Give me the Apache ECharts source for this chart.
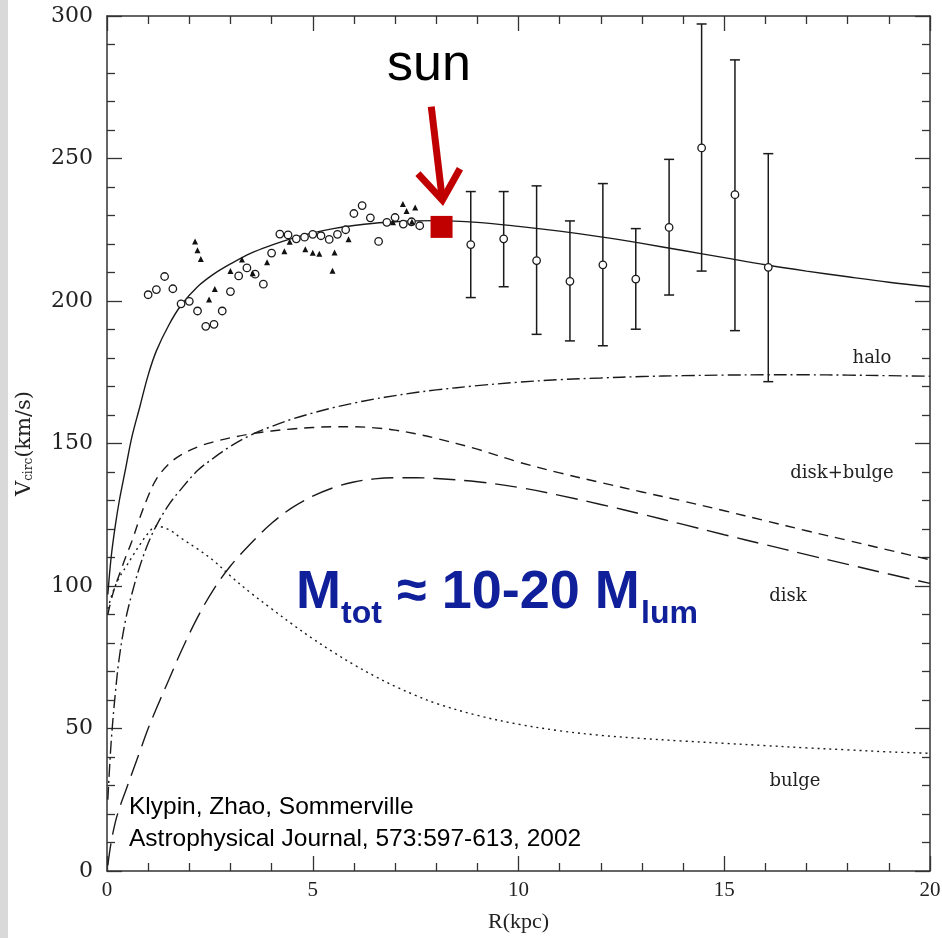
<!DOCTYPE html>
<html>
<head>
<meta charset="utf-8">
<script src="https://cdn.jsdelivr.net/npm/echarts@6/dist/echarts.min.js"></script>
<style>
  html, body { margin: 0; padding: 0; background: #fff; }
  #chart { width: 942px; height: 938px; }
</style>
</head>
<body>
<div id="chart"></div>
<script>
// model curves, R in kpc
var rModel = [0.02, 0.1, 0.2, 0.3, 0.45, 0.6, 0.8, 1.0, 1.2, 1.5, 1.8, 2.2, 2.6, 3.0, 3.5, 4, 4.5, 5, 5.5, 6, 6.5, 7, 7.5, 8, 9, 10, 11, 12, 13, 14, 15, 16, 17, 18, 19, 20];
var vTotal = [97, 110, 121, 130, 141, 152, 163, 174, 182.5, 191.5, 198.5, 205, 209.5, 213, 216.8, 219.6, 222, 223.9, 225.4, 226.5, 227.3, 227.8, 228.1, 228.2, 227.6, 226.2, 224.5, 222.5, 220.2, 217.7, 215.2, 212.7, 210.5, 208.5, 206.6, 205];
var vHalo = [25, 45, 62, 75, 88, 97, 107, 115, 121.2, 128.5, 134, 140.5, 145, 149, 153, 156, 158.6, 160.7, 162.6, 164.2, 165.6, 166.8, 167.9, 168.8, 170.3, 171.5, 172.4, 173, 173.5, 173.8, 174, 174.1, 174.1, 174, 173.8, 173.6];
var vDiskBulge = [90, 95, 100, 104, 110, 115.5, 124, 131.5, 137.5, 142.8, 146, 148.8, 150.6, 152, 153.4, 154.4, 155.1, 155.6, 155.9, 155.9, 155.5, 154.7, 153.4, 151.8, 148, 143.5, 139.7, 136.3, 133, 129.8, 126.4, 122.9, 119.4, 116, 112.6, 109.2];
var vDisk = [2, 10, 17, 22, 28, 34, 42, 50, 57, 67, 77, 89, 99, 107, 115, 122, 127.5, 131.5, 134.5, 136.5, 137.6, 138, 138, 137.7, 136.6, 134.6, 131.8, 128.6, 125.2, 121.6, 118, 114.5, 111, 107.6, 104.2, 100.9];
var vBulge = [92, 96, 100, 103, 106.5, 110, 114.5, 118.5, 121, 119.8, 116.8, 113, 108.8, 103.5, 97.5, 92, 86.6, 81.5, 76.8, 72.4, 68.4, 64.8, 61.6, 58.8, 54.6, 51.5, 49.2, 47.6, 46.5, 45.6, 44.8, 44, 43.2, 42.5, 41.8, 41.3];

// observations: open circles
var circR = [1.0, 1.2, 1.4, 1.6, 1.8, 2.0, 2.2, 2.4, 2.6, 2.8, 3.0, 3.2, 3.4, 3.6, 3.8, 4.0, 4.2, 4.4, 4.6, 4.8, 5.0, 5.2, 5.4, 5.6, 5.8, 6.0, 6.2, 6.4, 6.6, 6.8, 7.0, 7.2, 7.4, 7.6];
var circV = [202.2, 204, 208.6, 204.3, 199, 199.9, 196.5, 191.1, 191.8, 196.5, 203.3, 208.8, 211.6, 209.4, 205.9, 216.8, 223.5, 223.2, 221.8, 222.4, 223.4, 222.9, 221.6, 223.4, 225, 230.7, 233.5, 229.2, 220.9, 227.6, 229.3, 227, 227.8, 226.4];
// observations: filled triangles
var triR = [2.14, 2.2, 2.28, 2.48, 2.62, 3.0, 3.28, 3.54, 3.89, 4.31, 4.44, 4.82, 5.0, 5.16, 5.48, 5.53, 5.87, 6.95, 7.19, 7.28, 7.41, 7.49];
var triV = [220.9, 217.8, 214.7, 200.5, 204.2, 210.5, 214.6, 209.7, 213.6, 217.5, 220.8, 218.2, 216.9, 216.6, 210.6, 217, 221.7, 227.6, 234, 231.6, 227.8, 232.8];
// outer points with error bars
var errR = [8.84, 9.64, 10.44, 11.25, 12.05, 12.85, 13.66, 14.45, 15.26, 16.07];
var errV = [219.8, 221.8, 214.2, 206.9, 212.7, 207.7, 225.8, 253.7, 237.3, 211.8];
var errLo = [201.2, 205.0, 188.3, 186.0, 184.3, 190.1, 202.1, 210.5, 189.6, 171.7];
var errHi = [238.4, 238.4, 240.4, 228.1, 241.2, 225.4, 249.7, 297.2, 284.6, 251.7];
// sun
var sunPos = [8.13, 226];
var arrowFrom = [7.88, 268.2];
var arrowTo = [8.15, 235.4];

var ink = '#1a1a1a';
var serif = 'DejaVu Serif';

function pairs(xs, ys) {
    return xs.map(function (x, i) { return [x, ys[i]]; });
}

function curve(name, ys, dash) {
    return {
        name: name,
        type: 'line',
        data: pairs(rModel, ys),
        showSymbol: false,
        smooth: 0.35,
        lineStyle: { color: ink, width: 1.4, type: dash },
        silent: true,
        z: 2
    };
}

var dom = document.getElementById('chart');
var myChart = echarts.init(dom);

var xAxisBase = {
    type: 'value',
    min: 0,
    max: 20,
    interval: 5,
    splitLine: { show: false },
    axisLine: { show: true, onZero: false, lineStyle: { color: '#333', width: 1.5 } },
    axisTick: { show: true, inside: true, length: 15, lineStyle: { color: '#333', width: 1.3 } },
    minorTick: { show: true, splitNumber: 5, length: 8, lineStyle: { color: '#333', width: 1.3 } }
};
var yAxisBase = {
    type: 'value',
    min: 0,
    max: 300,
    interval: 50,
    splitLine: { show: false },
    axisLine: { show: true, onZero: false, lineStyle: { color: '#333', width: 1.5 } },
    axisTick: { show: true, inside: true, length: 15, lineStyle: { color: '#333', width: 1.3 } },
    minorTick: { show: true, splitNumber: 5, length: 8, lineStyle: { color: '#333', width: 1.3 } }
};

option = {
    animation: false,
    backgroundColor: '#fff',
    grid: { left: 107, right: 12, top: 16, bottom: 67, outerBoundsMode: 'none' },
    xAxis: [
        Object.assign({}, xAxisBase, {
            position: 'bottom',
            name: 'R(kpc)',
            nameLocation: 'middle',
            nameGap: 40,
            nameTextStyle: { fontFamily: 'Liberation Serif', fontSize: 22, color: '#222' },
            axisLabel: { margin: 9, fontFamily: 'Liberation Serif', fontSize: 21, color: '#222' }
        }),
        Object.assign({}, xAxisBase, { position: 'top', axisLabel: { show: false } })
    ],
    yAxis: [
        Object.assign({}, yAxisBase, {
            position: 'left',
            name: '{a|V}{b|circ}{a|(km/s)}',
            nameLocation: 'middle',
            nameGap: 72,
            nameTextStyle: {
                color: '#222',
                rich: {
                    a: { fontFamily: serif, fontSize: 21, color: '#222' },
                    b: { fontFamily: serif, fontSize: 12, color: '#222', verticalAlign: 'bottom', padding: [8, 0, 0, 0] }
                }
            },
            axisLabel: { margin: 14, fontFamily: serif, fontSize: 22, color: '#222' }
        }),
        Object.assign({}, yAxisBase, { position: 'right', axisLabel: { show: false } })
    ],
    series: [
        curve('total', vTotal, 'solid'),
        curve('halo', vHalo, [13, 4, 2, 4]),
        curve('disk+bulge', vDiskBulge, [10, 7]),
        curve('disk', vDisk, [22, 9]),
        curve('bulge', vBulge, [2, 4]),
        {
            name: 'error bars',
            type: 'custom',
            data: errR.map(function (r, i) { return [r, errLo[i], errHi[i]]; }),
            encode: { x: 0, y: [1, 2] },
            renderItem: function (params, api) {
                var lo = api.coord([api.value(0), api.value(1)]);
                var hi = api.coord([api.value(0), api.value(2)]);
                var w = 5;
                var st = { stroke: ink, lineWidth: 1.5 };
                return {
                    type: 'group',
                    children: [
                        { type: 'line', shape: { x1: lo[0], y1: lo[1], x2: hi[0], y2: hi[1] }, style: st },
                        { type: 'line', shape: { x1: lo[0] - w, y1: lo[1], x2: lo[0] + w, y2: lo[1] }, style: st },
                        { type: 'line', shape: { x1: hi[0] - w, y1: hi[1], x2: hi[0] + w, y2: hi[1] }, style: st }
                    ]
                };
            },
            silent: true,
            z: 3
        },
        {
            name: 'circles',
            type: 'scatter',
            data: pairs(circR, circV).concat(pairs(errR, errV)),
            symbol: 'circle',
            symbolSize: 7.5,
            itemStyle: { color: '#fff', borderColor: ink, borderWidth: 1.3, opacity: 1 },
            z: 4
        },
        {
            name: 'triangles',
            type: 'scatter',
            data: pairs(triR, triV),
            symbol: 'triangle',
            symbolSize: 6,
            itemStyle: { color: '#111', opacity: 1 },
            z: 4
        },
        {
            name: 'sun',
            type: 'scatter',
            data: [sunPos],
            symbol: 'rect',
            symbolSize: 22,
            itemStyle: { color: '#c00000', opacity: 1 },
            z: 6
        },
        {
            name: 'sun arrow',
            type: 'custom',
            data: [[arrowFrom[0], arrowFrom[1], arrowTo[0], arrowTo[1]]],
            encode: { x: [0, 2], y: [1, 3] },
            renderItem: function (params, api) {
                var a = api.coord([api.value(0), api.value(1)]);
                var b = api.coord([api.value(2), api.value(3)]);
                var dx = a[0] - b[0], dy = a[1] - b[1];
                var len = Math.sqrt(dx * dx + dy * dy);
                dx /= len; dy /= len;
                var ang = 36 * Math.PI / 180, arm = 36;
                function rot(s) {
                    var c = Math.cos(s * ang), n = Math.sin(s * ang);
                    return [b[0] + arm * (dx * c - dy * n), b[1] + arm * (dx * n + dy * c)];
                }
                var st = { stroke: '#c00000', lineWidth: 7, fill: null, lineJoin: 'miter' };
                return {
                    type: 'group',
                    children: [
                        { type: 'line', shape: { x1: a[0], y1: a[1], x2: b[0], y2: b[1] }, style: st },
                        { type: 'polyline', shape: { points: [rot(1), b, rot(-1)] }, style: st }
                    ]
                };
            },
            silent: true,
            z: 6
        }
    ],
    graphic: [
        { type: 'rect', left: 0, top: 0, shape: { width: 8, height: 938 }, style: { fill: '#d9d9d9' }, silent: true },
        { type: 'text', x: 429, y: 66, style: { text: 'sun', fontFamily: 'Liberation Sans', fontSize: 52, fill: '#000', align: 'center', verticalAlign: 'middle' } },
        { type: 'text', x: 872, y: 358, style: { text: 'halo', fontFamily: serif, fontSize: 18, fill: '#222', align: 'center', verticalAlign: 'middle' } },
        { type: 'text', x: 842, y: 473, style: { text: 'disk+bulge', fontFamily: serif, fontSize: 18, fill: '#222', align: 'center', verticalAlign: 'middle' } },
        { type: 'text', x: 788, y: 596, style: { text: 'disk', fontFamily: serif, fontSize: 18, fill: '#222', align: 'center', verticalAlign: 'middle' } },
        { type: 'text', x: 795, y: 781, style: { text: 'bulge', fontFamily: serif, fontSize: 18, fill: '#222', align: 'center', verticalAlign: 'middle' } },
        { type: 'text', x: 296, y: 593, style: { text: 'M', fontFamily: 'Liberation Sans', fontWeight: 'bold', fontSize: 54, fill: '#10209a', align: 'left', verticalAlign: 'middle' } },
        { type: 'text', x: 341, y: 614, style: { text: 'tot', fontFamily: 'Liberation Sans', fontWeight: 'bold', fontSize: 32, fill: '#10209a', align: 'left', verticalAlign: 'middle' } },
        { type: 'text', x: 382, y: 593, style: { text: ' \u2248 10-20 M', fontFamily: 'Liberation Sans', fontWeight: 'bold', fontSize: 54, fill: '#10209a', align: 'left', verticalAlign: 'middle' } },
        { type: 'text', x: 641, y: 614, style: { text: 'lum', fontFamily: 'Liberation Sans', fontWeight: 'bold', fontSize: 32, fill: '#10209a', align: 'left', verticalAlign: 'middle' } },
        { type: 'text', x: 129, y: 807, style: { text: 'Klypin, Zhao, Sommerville', fontFamily: 'Liberation Sans', fontSize: 24.5, fill: '#000', align: 'left', verticalAlign: 'middle' } },
        { type: 'text', x: 129, y: 839, style: { text: 'Astrophysical Journal, 573:597-613, 2002', fontFamily: 'Liberation Sans', fontSize: 24.5, fill: '#000', align: 'left', verticalAlign: 'middle' } }
    ]
};

if (option && typeof option === 'object') {
    myChart.setOption(option, true);
}
</script>
</body>
</html>
